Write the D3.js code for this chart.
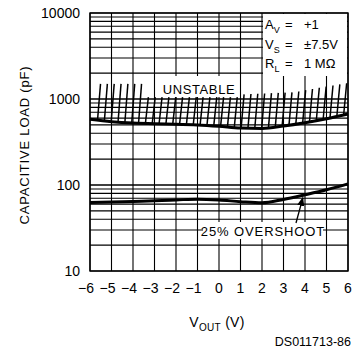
<!DOCTYPE html>
<html>
<head>
<meta charset="utf-8">
<script src="https://cdn.jsdelivr.net/npm/d3@7"></script>
<style>
  body { margin: 0; background: #fff; }
  text { font-family: "Liberation Sans", Arial, sans-serif; fill: #000; }
</style>
</head>
<body>
<div id="chart"></div>
<script>
// data
const vout = [-6, -5, -4, -3, -2, -1, 0, 1, 2, 3, 4, 5, 6];
const unstableLoad = [580, 545, 525, 515, 510, 500, 482, 460, 455, 485, 530, 590, 670];
const overshootLoad = [62.5, 63.5, 64.5, 65.5, 67, 68.5, 67, 64, 62, 68, 77, 88, 103];
const xTicks = [-6, -5, -4, -3, -2, -1, 0, 1, 2, 3, 4, 5, 6];
const yTicks = [10, 100, 1000, 10000];
const conditions = [
  { sym: "A", sub: "V", val: "+1" },
  { sym: "V", sub: "S", val: "\u00b17.5V" },
  { sym: "R", sub: "L", val: "1 M\u03a9" }
];

const width = 364, height = 354;
const svg = d3.select("#chart").append("svg")
  .attr("width", width).attr("height", height);

const x = d3.scaleLinear().domain([-6, 6]).range([90, 348]);
const y = d3.scaleLog().domain([10, 10000]).range([271, 13]);

// grid
const minor = [];
[10, 100, 1000].forEach(d => { for (let k = 1; k <= 10; k++) minor.push(d * k); });
svg.append("g").selectAll("line").data(minor).join("line")
  .attr("x1", x(-6)).attr("x2", x(6))
  .attr("y1", d => y(d)).attr("y2", d => y(d))
  .attr("stroke", "#000").attr("stroke-width", 1.1);
svg.append("g").selectAll("line").data(xTicks).join("line")
  .attr("x1", d => x(d)).attr("x2", d => x(d))
  .attr("y1", y(10)).attr("y2", y(10000))
  .attr("stroke", "#000").attr("stroke-width", 1.1);

// frame
svg.append("rect")
  .attr("x", x(-6)).attr("y", y(10000))
  .attr("width", x(6) - x(-6)).attr("height", y(10) - y(10000))
  .attr("fill", "none").attr("stroke", "#000").attr("stroke-width", 1.4);

// white boxes behind labels
svg.append("rect").attr("x", x(2) + 1).attr("y", y(10000) + 1)
  .attr("width", x(6) - x(2) - 2).attr("height", 62).attr("fill", "#fff");
svg.append("rect").attr("x", 162).attr("y", 76)
  .attr("width", 74).attr("height", 21).attr("fill", "#fff");
svg.append("rect").attr("x", 203).attr("y", 222)
  .attr("width", 120).attr("height", 17).attr("fill", "#fff");

// hatching above the unstable boundary
const boundary = d3.scaleLinear().domain(vout).range(unstableLoad);
const hatchTop = d3.scaleLinear()
  .domain([-6, -3.6, -3.5, 0.8, 0.9, 3.4, 6])
  .range([1500, 1500, 1050, 1050, 1130, 1200, 1550]);
const hatchX = d3.range(-5.65, 5.95, 0.318);
svg.append("g").selectAll("line").data(hatchX).join("line")
  .attr("x1", d => x(d)).attr("y1", d => y(boundary(d)))
  .attr("x2", d => x(d) + 3).attr("y2", d => y(hatchTop(d)))
  .attr("stroke", "#000").attr("stroke-width", 1.5);

// curves
const line = d3.line().x(d => x(d[0])).y(d => y(d[1])).curve(d3.curveMonotoneX);
svg.append("path").datum(vout.map((v, i) => [v, unstableLoad[i]]))
  .attr("d", line).attr("fill", "none").attr("stroke", "#000").attr("stroke-width", 3);
svg.append("path").datum(vout.map((v, i) => [v, overshootLoad[i]]))
  .attr("d", line).attr("fill", "none").attr("stroke", "#000").attr("stroke-width", 3);

// arrow to the overshoot curve
svg.append("defs").append("marker")
  .attr("id", "arr").attr("viewBox", "0 0 10 10")
  .attr("refX", 9).attr("refY", 5)
  .attr("markerWidth", 7).attr("markerHeight", 7)
  .attr("orient", "auto")
  .append("path").attr("d", "M0,1 L10,5 L0,9 Z").attr("fill", "#000");
svg.append("line")
  .attr("x1", 296).attr("y1", 223)
  .attr("x2", x(3.9)).attr("y2", y(75) + 2)
  .attr("stroke", "#000").attr("stroke-width", 1.3)
  .attr("marker-end", "url(#arr)");

// labels in the plot
svg.append("text").attr("x", 199).attr("y", 94)
  .attr("text-anchor", "middle").attr("font-size", 13).attr("letter-spacing", 0.6)
  .text("UNSTABLE");
svg.append("text").attr("x", 263).attr("y", 236)
  .attr("text-anchor", "middle").attr("font-size", 13).attr("letter-spacing", 0.9)
  .text("25% OVERSHOOT");

const cond = svg.append("g");
conditions.forEach((c, i) => {
  const by = 29 + i * 19.5;
  const t = cond.append("text").attr("y", by).attr("font-size", 13);
  t.append("tspan").attr("x", 265).text(c.sym);
  t.append("tspan").attr("dy", 4).attr("font-size", 9).text(c.sub);
  t.append("tspan").attr("x", 285).attr("dy", -4).text("=");
  t.append("tspan").attr("x", 304).text(c.val);
});

// tick labels
svg.append("g").selectAll("text").data(yTicks).join("text")
  .attr("x", 80).attr("y", d => y(d) + 5)
  .attr("text-anchor", "end").attr("font-size", 14)
  .text(d => d);
svg.append("g").selectAll("text").data(xTicks).join("text")
  .attr("x", d => d < 0 ? x(d) + 4 : x(d))
  .attr("y", 293)
  .attr("text-anchor", d => d < 0 ? "end" : "middle")
  .attr("font-size", 14)
  .text(d => d < 0 ? "\u2212" + Math.abs(d) : d);

// axis titles
svg.append("text")
  .attr("transform", "translate(29,145) rotate(-90)")
  .attr("text-anchor", "middle").attr("font-size", 13).attr("letter-spacing", 0.8)
  .text("CAPACITIVE LOAD (pF)");
const xt = svg.append("text").attr("x", 217).attr("y", 327)
  .attr("text-anchor", "middle").attr("font-size", 14).attr("letter-spacing", 0.3);
xt.append("tspan").text("V");
xt.append("tspan").attr("dy", 4).attr("font-size", 10).text("OUT");
xt.append("tspan").attr("dy", -4).text(" (V)");

svg.append("text").attr("x", 351).attr("y", 346)
  .attr("text-anchor", "end").attr("font-size", 12.5)
  .text("DS011713-86");
</script>
</body>
</html>
